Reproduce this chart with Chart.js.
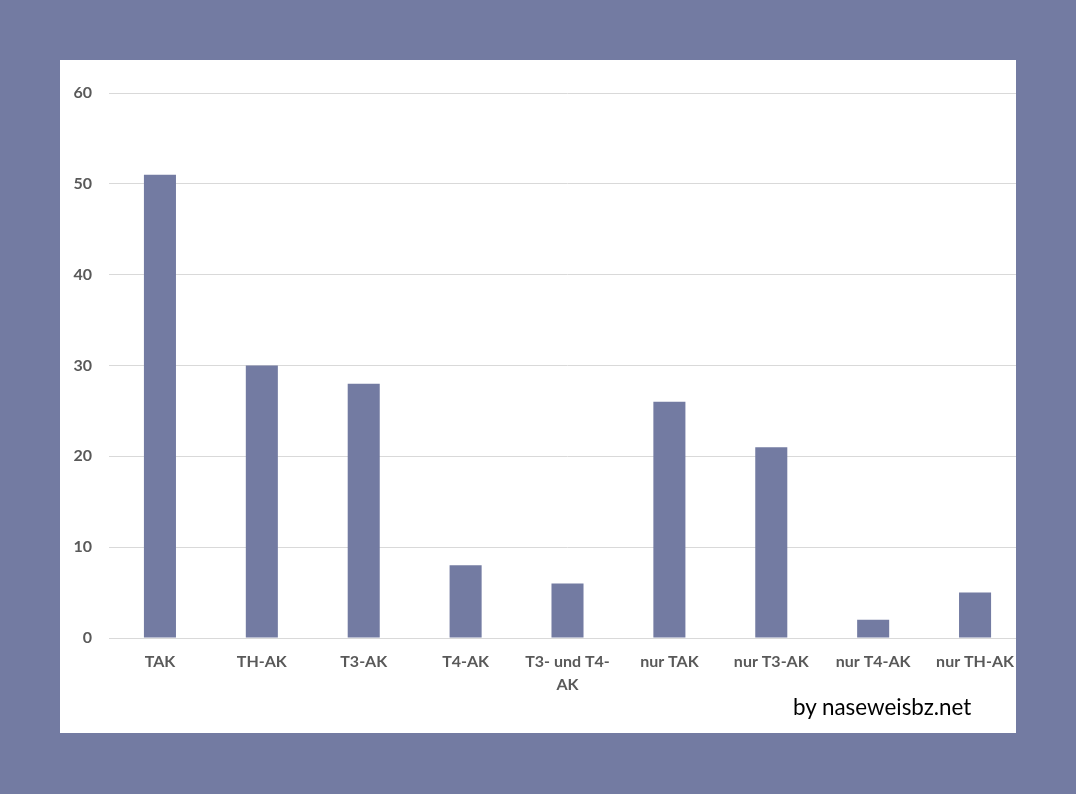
<!DOCTYPE html>
<html>
<head>
<meta charset="utf-8">
<script src="https://cdn.jsdelivr.net/npm/chart.js@4"></script>
<style>
  html, body { margin: 0; padding: 0; }
  body { width: 1076px; height: 794px; background: #737ba2; position: relative; overflow: hidden; }
  #panel { position: absolute; left: 60px; top: 60px; width: 956px; height: 673px; background: #ffffff; overflow: hidden; }
  #myChart { position: absolute; left: 0; top: 0; }
  #credit { position: absolute; left: 733px; top: 633px; font-family: Lato, "Open Sans", sans-serif; font-size: 22.4px; color: #000; }
</style>
</head>
<body>
<div id="panel">
  <!-- le graphique dépasse un peu à droite, comme dans l'original -->
  <canvas id="myChart" width="966" height="673"></canvas>
  <div id="credit">by naseweisbz.net</div>
</div>
<script>
// Kategorien und Werte
const categories = ["TAK", "TH-AK", "T3-AK", "T4-AK", ["T3- und T4-", "AK"], "nur TAK", "nur T3-AK", "nur T4-AK", "nur TH-AK"];
const values = [51, 30, 28, 8, 6, 26, 21, 2, 5];
const yTicks = [0, 10, 20, 30, 40, 50, 60];

const barColor = "#737ba2";
const textColor = "#595959";
const gridColor = "#d9d9d9";

const config = {
  type: "bar",
  data: {
    labels: categories,
    datasets: [
      {
        data: values,
        backgroundColor: barColor,
        barPercentage: 0.3145,
        categoryPercentage: 1.0,
      },
    ],
  },
  options: {
    responsive: false,
    animation: false,
    layout: { padding: { top: 33, right: 0, left: 0, bottom: 0 } },
    plugins: {
      legend: { display: false },
      tooltip: { enabled: false },
    },
    scales: {
      x: {
        grid: { display: false, drawTicks: false },
        border: { color: gridColor },
        ticks: {
          color: textColor,
          font: { family: "Lato, 'Open Sans', sans-serif", size: 16, weight: "bold", lineHeight: 1.45 },
          padding: 12,
          maxRotation: 0,
          autoSkip: false,
        },
        afterFit: function (scale) { scale.height = 95; },
      },
      y: {
        min: 0,
        max: 60,
        afterBuildTicks: function (scale) { scale.ticks = yTicks.map(v => ({ value: v })); },
        grid: { color: gridColor, drawTicks: false },
        border: { display: false },
        ticks: {
          color: textColor,
          font: { family: "Lato, 'Open Sans', sans-serif", size: 16, weight: "bold" },
          padding: 17,
        },
        afterFit: function (scale) { scale.width = 49; },
      },
    },
  },
};

let context = document.getElementById("myChart").getContext("2d");
let chart = new Chart(context, config);
</script>
</body>
</html>
